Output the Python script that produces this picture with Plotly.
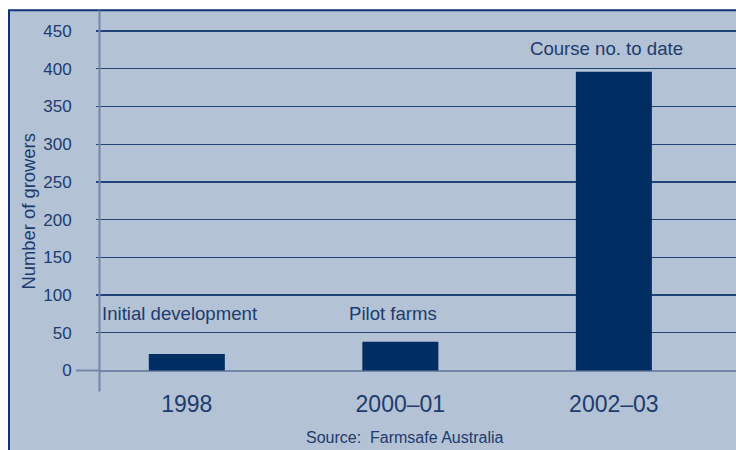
import plotly.graph_objects as go

# Data
categories = ["1998", "2000–01", "2002–03"]
growers = [22, 38, 396]
bar_labels = ["Initial development", "Pilot farms", "Course no. to date"]
label_heights = [76, 76, 427]
y_ticks = [0, 50, 100, 150, 200, 250, 300, 350, 400, 450]
source_text = "Source:  Farmsafe Australia"
y_title = "Number of growers"

BG = "#b4c2d5"
DARK = "#0f3473"
BAR = "#002d62"
TEXT = "#1c3b6e"
AXIS = "#7387a8"
GRID = "#1f4479"
FONT = "Liberation Sans, Arial, sans-serif"

W, H = 736, 450
# screen-space plot box
S_LEFT, S_RIGHT, S_TOP, S_BOTTOM = 100, 736, 10, 388
L, R, T, B = S_LEFT, W - S_RIGHT, S_TOP, H - S_BOTTOM
PW, PH = W - L - R, H - T - B

scale = 0.7544  # px per unit
zero_px = 370.5
ymin = -(S_BOTTOM - zero_px) / scale
ymax = (zero_px - S_TOP) / scale
xr = [-0.4066, 2.572]


def px_x(px):
    return (px - L) / PW


def px_y(py):
    return (H - B - py) / PH


fig = go.Figure()
fig.add_trace(go.Bar(x=categories, y=growers, marker=dict(color=BAR, line=dict(width=0)),
                     hoverinfo="skip"))

y0p = (0 - ymin) / (ymax - ymin)
shapes = [
    dict(type="rect", xref="paper", yref="paper", x0=px_x(9), x1=1.2, y0=-0.4, y1=px_y(10.3),
         fillcolor=BG, line=dict(color=DARK, width=2), layer="below"),
    dict(type="line", xref="paper", yref="paper", x0=px_x(76), x1=0, y0=y0p, y1=y0p,
         line=dict(color=AXIS, width=2), layer="above"),
    dict(type="line", xref="paper", yref="paper", x0=px_x(99.5), x1=px_x(99.5),
         y0=px_y(391.5), y1=px_y(10.5),
         line=dict(color=AXIS, width=2), layer="above"),
]

annotations = []
for i, (t, h) in enumerate(zip(bar_labels, label_heights)):
    annotations.append(dict(x=i, y=h, xref="x", yref="y", text=t, showarrow=False,
                            xanchor="center", yanchor="middle", xshift=-7,
                            font=dict(family=FONT, size=18.6, color=TEXT)))
annotations.append(dict(x=px_x(405), y=px_y(437.5), xref="paper", yref="paper", text=source_text,
                        showarrow=False, xanchor="center", yanchor="middle",
                        font=dict(family=FONT, size=16, color=TEXT)))
annotations.append(dict(x=px_x(28), y=px_y(211.5), xref="paper", yref="paper", text=y_title,
                        showarrow=False, textangle=-90, xanchor="center", yanchor="middle",
                        font=dict(family=FONT, size=18.4, color=TEXT)))

fig.update_layout(
    width=W, height=H,
    margin=dict(l=L, r=R, t=T, b=B, pad=0),
    paper_bgcolor="white",
    plot_bgcolor="rgba(0,0,0,0)",
    showlegend=False,
    bargap=0.644,
    shapes=shapes,
    annotations=annotations,
    font=dict(family=FONT, color=TEXT),
    xaxis=dict(type="category", range=xr, showgrid=False, zeroline=False, showline=False,
               ticks="", tickfont=dict(family=FONT, size=23, color=TEXT),
               ticklabelstandoff=0),
    yaxis=dict(range=[ymin, ymax], tickvals=y_ticks, showgrid=True, gridcolor=GRID, gridwidth=1.2,
               zeroline=True, zerolinecolor=AXIS, zerolinewidth=2,
               showline=False,
               ticks="outside", ticklen=3, tickcolor=GRID, tickwidth=1.2,
               tickfont=dict(family=FONT, size=17, color=TEXT),
               ticklabelstandoff=21),
)

fig.write_html(
    "out.html",
    config={"displayModeBar": False, "staticPlot": True},
    post_script=(
        "document.documentElement.style.margin='0';"
        "document.body.style.margin='0';"
        "document.documentElement.style.overflow='hidden';"
        "document.body.style.overflow='hidden';"
    ),
)
